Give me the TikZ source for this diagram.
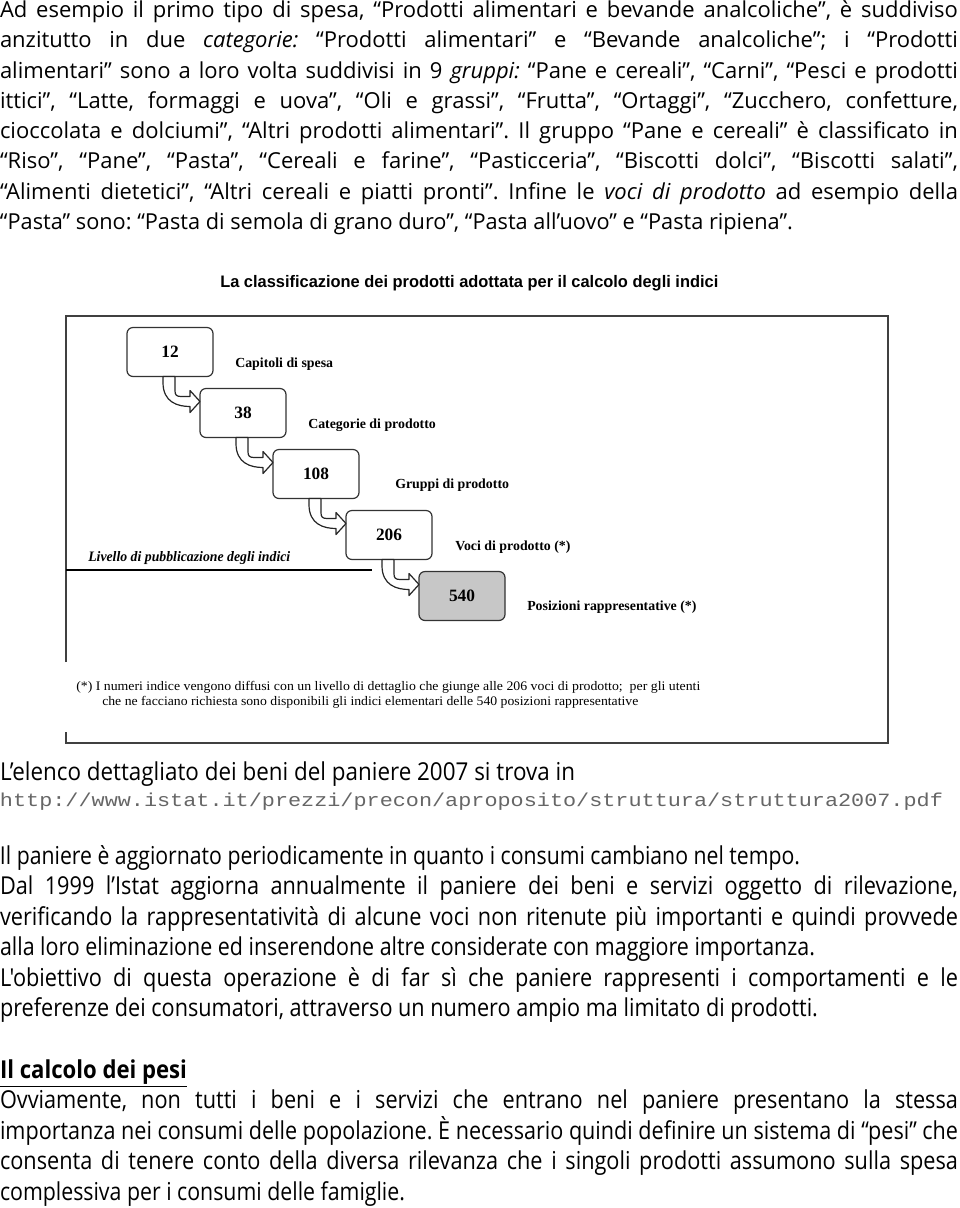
\documentclass[tikz,border=0pt]{standalone}
\usepackage{fontspec}
\usepackage{graphicx}
\setmainfont{Open Sans}
\newfontfamily\condf[FakeStretch=0.88]{Open Sans}
\newfontfamily\tnr{Liberation Serif}
\newfontfamily\arialf{Liberation Sans}
\newfontfamily\courf{Liberation Mono}
\usetikzlibrary{calc}
\frenchspacing
\newsavebox\lnbox
% justify a line to a width given in px (1px = 0.75pt)
\newcommand\fitj[2]{%
  \sbox\lnbox{#2}%
  \ifdim\wd\lnbox>\dimexpr #1pt*3/4\relax
    \resizebox{\dimexpr #1pt*3/4\relax}{\height}{\usebox\lnbox}%
  \else
    \makebox[\dimexpr #1pt*3/4\relax][s]{#2}%
  \fi}
% scale a line horizontally to a width given in px
\newcommand\fitw[2]{\resizebox{\dimexpr #1pt*3/4\relax}{\height}{#2}}
\newcommand\bend[2]{%
  \coordinate (s) at ($(#1.south west)+(36,0)$);
  \coordinate (t) at ($(#2.west |- #1.south)+(0,25)$);
  \filldraw[barrow] (s) -- ($(s)+(0,6)$)
    .. controls ($(s)+(0,26)$) and ($(t)+(-22,5)$) .. ($(t)+(-10,5)$)
    -- ($(t)+(-10,11)$) -- (t) -- ($(t)+(-10,-11)$) -- ($(t)+(-10,-5)$)
    -- ($(s)+(18,20)$) .. controls ($(s)+(13,20)$) and ($(s)+(12,18)$) .. ($(s)+(12,14)$)
    -- ($(s)+(12,0)$) -- cycle;}
\begin{document}
\begin{tikzpicture}[x=0.75pt,y=-0.75pt,
  body/.style={inner sep=0pt, outer sep=0pt, anchor=base west, font=\fontsize{16.5}{20}\selectfont},
  lower/.style={inner sep=0pt, outer sep=0pt, anchor=base west, font=\condf\fontsize{18.5}{22}\selectfont},
  numbox/.style={draw=black!80, line width=0.9pt, rounded corners=4.5pt, minimum width=64.5pt,
    minimum height=36.75pt, inner sep=0pt, outer sep=0pt, font=\tnr\bfseries\fontsize{13}{15}\selectfont},
  lab/.style={inner sep=0pt, anchor=base west, font=\tnr\bfseries\fontsize{10.4}{12}\selectfont},
  barrow/.style={draw=black!85, line width=0.9pt, fill=white, line join=round},
  frameline/.style={draw=black!75, line width=1.1pt},
  note/.style={inner sep=0pt, anchor=base west, font=\tnr\fontsize{9.8}{11}\selectfont}]
\fill[white] (0,0) rectangle (960,1208);
\useasboundingbox (0,0) rectangle (960,1208);

% top paragraph
\node[body] (p1) at (0,17) {\fitj{958}{Ad esempio il primo tipo di spesa, “Prodotti alimentari e bevande analcoliche”, è suddiviso}};
\node[body] (p2) at (0,47.5) {\fitj{958}{anzitutto in due \textit{categorie:} “Prodotti alimentari” e “Bevande analcoliche”; i “Prodotti}};
\node[body] (p3) at (0,78) {\fitj{958}{alimentari” sono a loro volta suddivisi in 9 \textit{gruppi:} “Pane e cereali”, “Carni”, “Pesci e prodotti}};
\node[body] (p4) at (0,108) {\fitj{958}{ittici”, “Latte, formaggi e uova”, “Oli e grassi”, “Frutta”, “Ortaggi”, “Zucchero, confetture,}};
\node[body] (p5) at (0,138.5) {\fitj{958}{cioccolata e dolciumi”, “Altri prodotti alimentari”. Il gruppo “Pane e cereali” è classificato in}};
\node[body] (p6) at (0,168.5) {\fitj{958}{“Riso”, “Pane”, “Pasta”, “Cereali e farine”, “Pasticceria”, “Biscotti dolci”, “Biscotti salati”,}};
\node[body] (p7) at (0,199) {\fitj{958}{“Alimenti dietetici”, “Altri cereali e piatti pronti”. Infine le \textit{voci di prodotto} ad esempio della}};
\node[body] (p8) at (0,229) {\fitw{793}{“Pasta” sono: “Pasta di semola di grano duro”, “Pasta all'uovo” e “Pasta ripiena”.}};

% diagram
\node[inner sep=0pt, anchor=base west, font=\arialf\bfseries\fontsize{12.5}{14}\selectfont] (title) at (220,287)
  {\fitw{498}{La classificazione dei prodotti adottata per il calcolo degli indici}};
\draw[frameline] (66,662) -- (66,316) -- (888,316) -- (888,743) -- (66,743) -- (66,732);

\node[numbox] (b12) at (170,352) {12};
\node[numbox] (b38) at (243,413) {38};
\node[numbox] (b108) at (316,474) {108};
\node[numbox] (b206) at (389,535) {206};
\node[numbox, fill=black!22] (b540) at (462,596) {540};

\bend{b12}{b38}
\bend{b38}{b108}
\bend{b108}{b206}
\bend{b206}{b540}

\node[lab] (l1) at (235,367) {Capitoli di spesa};
\node[lab] (l2) at (308,428) {Categorie di prodotto};
\node[lab] (l3) at (395,488) {Gruppi di prodotto};
\node[lab] (l4) at (455,550) {Voci di prodotto (*)};
\node[lab] (l5) at (527,610) {Posizioni rappresentative (*)};

\node[inner sep=0pt, anchor=base west, font=\tnr\bfseries\itshape\fontsize{10.8}{12}\selectfont] (liv) at (88,561)
  {\fitw{202}{Livello di pubblicazione degli indici}};
\draw[line width=2.2pt] (66,570) -- (372,570);

\node[note] (n1) at (76,690) {\fitw{624}{(*) I numeri indice vengono diffusi con un livello di dettaglio che giunge alle 206 voci di prodotto;\ \ per gli utenti}};
\node[note] (n2) at (102,705) {\fitw{536}{che ne facciano richiesta sono disponibili gli indici elementari delle 540 posizioni rappresentative}};

% lower text
\node[lower] (q1) at (0,780) {\fitw{575}{L’elenco dettagliato dei beni del paniere 2007 si trova in}};
\node[lower, font=\courf\fontsize{14}{16}\selectfont, text=black!60] (url) at (0,806) {\fitw{943}{http://www.istat.it/prezzi/precon/aproposito/struttura/struttura2007.pdf}};
\node[lower] (q2) at (0,864) {\fitw{800}{Il paniere è aggiornato periodicamente in quanto i consumi cambiano nel tempo.}};
\node[lower] (q3) at (0,894) {\fitj{958}{Dal 1999 l’Istat aggiorna annualmente il paniere dei beni e servizi oggetto di rilevazione,}};
\node[lower] (q4) at (0,925) {\fitj{958}{verificando la rappresentatività di alcune voci non ritenute più importanti e quindi provvede}};
\node[lower] (q5) at (0,955) {\fitw{815}{alla loro eliminazione ed inserendone altre considerate con maggiore importanza.}};
\node[lower] (q6) at (0,986) {\fitj{958}{L'obiettivo di questa operazione è di far sì che paniere rappresenti i comportamenti e le}};
\node[lower] (q7) at (0,1016) {\fitw{818}{preferenze dei consumatori, attraverso un numero ampio ma limitato di prodotti.}};
\node[lower] (h1) at (0,1078) {\fitw{187}{\underline{\textbf{Il calcolo dei pesi}}}};
\node[lower] (r1) at (0,1108) {\fitj{958}{Ovviamente, non tutti i beni e i servizi che entrano nel paniere presentano la stessa}};
\node[lower] (r2) at (0,1139) {\fitj{958}{importanza nei consumi delle popolazione. È necessario quindi definire un sistema di “pesi” che}};
\node[lower] (r3) at (0,1169) {\fitj{958}{consenta di tenere conto della diversa rilevanza che i singoli prodotti assumono sulla spesa}};
\node[lower] (r4) at (0,1200) {\fitw{405}{complessiva per i consumi delle famiglie.}};
\end{tikzpicture}
\end{document}
